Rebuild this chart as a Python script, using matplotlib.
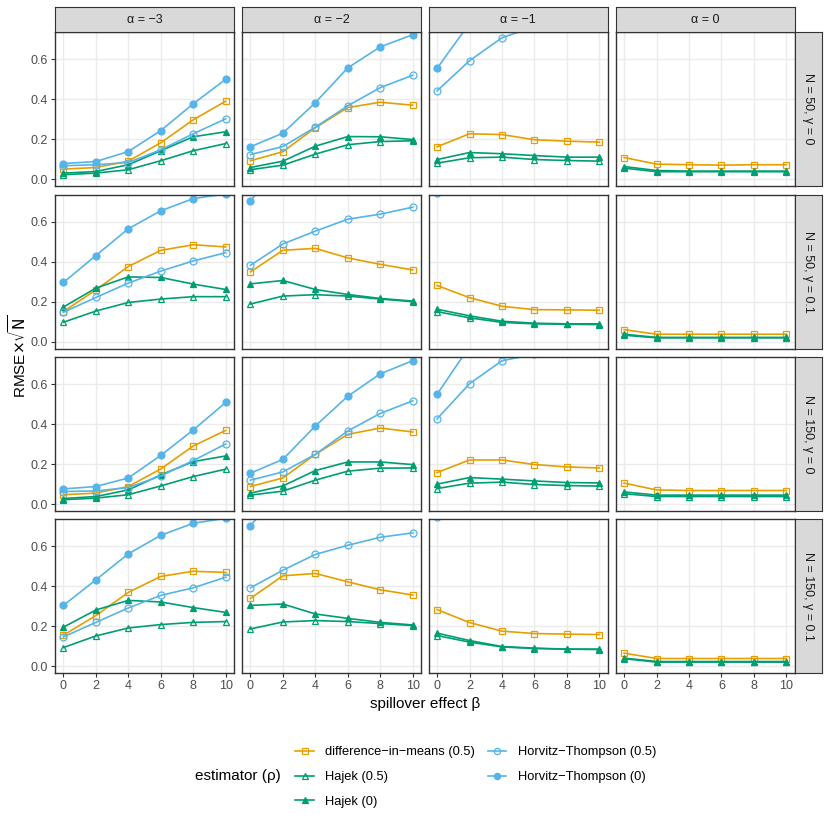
import numpy as np
import matplotlib.pyplot as plt
from matplotlib.lines import Line2D

plt.rcParams['font.family'] = ['Liberation Sans', 'DejaVu Sans']
plt.rcParams['mathtext.fontset'] = 'dejavusans'

beta = [0, 2, 4, 6, 8, 10]
alpha_labels = ['α = −3', 'α = −2', 'α = −1', 'α = 0']
row_labels = ['N = 50, γ = 0', 'N = 50, γ = 0.1', 'N = 150, γ = 0', 'N = 150, γ = 0.1']
estimators = ['difference−in−means (0.5)', 'Hajek (0.5)', 'Hajek (0)',
              'Horvitz−Thompson (0.5)', 'Horvitz−Thompson (0)']

# values indexed [row][alpha column][beta]
dim_05 = [
    [[0.05, 0.058, 0.09, 0.182, 0.297, 0.39],
     [0.092, 0.137, 0.257, 0.358, 0.385, 0.37],
     [0.162, 0.227, 0.223, 0.197, 0.19, 0.185],
     [0.108, 0.075, 0.072, 0.07, 0.072, 0.072]],
    [[0.151, 0.26, 0.377, 0.458, 0.486, 0.475],
     [0.35, 0.458, 0.468, 0.42, 0.388, 0.36],
     [0.282, 0.221, 0.178, 0.161, 0.16, 0.158],
     [0.061, 0.038, 0.038, 0.038, 0.038, 0.038]],
    [[0.047, 0.055, 0.088, 0.176, 0.291, 0.369],
     [0.088, 0.131, 0.249, 0.349, 0.381, 0.361],
     [0.158, 0.221, 0.221, 0.198, 0.186, 0.181],
     [0.105, 0.071, 0.068, 0.068, 0.068, 0.068]],
    [[0.155, 0.253, 0.369, 0.449, 0.475, 0.469],
     [0.339, 0.452, 0.464, 0.422, 0.382, 0.356],
     [0.283, 0.218, 0.175, 0.163, 0.16, 0.158],
     [0.065, 0.038, 0.038, 0.038, 0.038, 0.038]],
]
hajek_05 = [
    [[0.022, 0.03, 0.047, 0.092, 0.142, 0.178],
     [0.047, 0.07, 0.125, 0.172, 0.188, 0.192],
     [0.08, 0.107, 0.11, 0.098, 0.093, 0.09],
     [0.055, 0.037, 0.037, 0.037, 0.037, 0.037]],
    [[0.098, 0.154, 0.197, 0.214, 0.226, 0.226],
     [0.189, 0.229, 0.236, 0.229, 0.214, 0.201],
     [0.151, 0.12, 0.097, 0.09, 0.088, 0.086],
     [0.033, 0.02, 0.02, 0.02, 0.02, 0.02]],
    [[0.022, 0.03, 0.047, 0.091, 0.138, 0.175],
     [0.045, 0.065, 0.12, 0.165, 0.18, 0.181],
     [0.078, 0.105, 0.11, 0.098, 0.093, 0.09],
     [0.052, 0.038, 0.038, 0.038, 0.038, 0.038]],
    [[0.093, 0.151, 0.191, 0.208, 0.219, 0.223],
     [0.186, 0.221, 0.228, 0.223, 0.213, 0.203],
     [0.153, 0.12, 0.096, 0.088, 0.085, 0.083],
     [0.037, 0.02, 0.02, 0.02, 0.02, 0.02]],
]
hajek_0 = [
    [[0.03, 0.038, 0.072, 0.142, 0.212, 0.237],
     [0.058, 0.09, 0.165, 0.213, 0.212, 0.198],
     [0.098, 0.133, 0.127, 0.118, 0.11, 0.11],
     [0.063, 0.043, 0.04, 0.04, 0.04, 0.04]],
    [[0.174, 0.269, 0.325, 0.322, 0.289, 0.262],
     [0.29, 0.307, 0.262, 0.237, 0.217, 0.204],
     [0.163, 0.13, 0.103, 0.093, 0.09, 0.09],
     [0.038, 0.022, 0.022, 0.022, 0.022, 0.022]],
    [[0.028, 0.038, 0.071, 0.146, 0.213, 0.241],
     [0.055, 0.091, 0.168, 0.211, 0.211, 0.198],
     [0.1, 0.133, 0.125, 0.116, 0.108, 0.106],
     [0.061, 0.045, 0.045, 0.045, 0.045, 0.045]],
    [[0.195, 0.281, 0.329, 0.321, 0.293, 0.269],
     [0.304, 0.311, 0.261, 0.239, 0.219, 0.206],
     [0.165, 0.128, 0.098, 0.09, 0.085, 0.085],
     [0.04, 0.023, 0.023, 0.023, 0.023, 0.023]],
]
ht_05 = [
    [[0.067, 0.072, 0.083, 0.147, 0.227, 0.302],
     [0.123, 0.163, 0.26, 0.367, 0.458, 0.52],
     [0.442, 0.593, 0.708, 0.763, 0.80, 0.83],
     [1.6, 1.4, 1.3, 1.3, 1.3, 1.3]],
    [[0.148, 0.222, 0.294, 0.354, 0.405, 0.446],
     [0.383, 0.49, 0.554, 0.614, 0.639, 0.674],
     [0.745, 0.95, 1.05, 1.1, 1.1, 1.1],
     [1.8, 1.6, 1.5, 1.5, 1.5, 1.5]],
    [[0.063, 0.066, 0.083, 0.141, 0.218, 0.301],
     [0.12, 0.161, 0.249, 0.366, 0.454, 0.517],
     [0.427, 0.603, 0.718, 0.75, 0.78, 0.80],
     [1.6, 1.4, 1.3, 1.3, 1.3, 1.3]],
    [[0.146, 0.219, 0.291, 0.354, 0.392, 0.445],
     [0.392, 0.48, 0.559, 0.605, 0.645, 0.667],
     [0.745, 0.95, 1.05, 1.1, 1.1, 1.1],
     [1.8, 1.6, 1.5, 1.5, 1.5, 1.5]],
]
ht_0 = [
    [[0.078, 0.088, 0.138, 0.243, 0.377, 0.50],
     [0.162, 0.23, 0.383, 0.557, 0.662, 0.723],
     [0.555, 0.78, 0.95, 1.05, 1.1, 1.15],
     [2.0, 1.8, 1.7, 1.7, 1.7, 1.7]],
    [[0.297, 0.432, 0.566, 0.656, 0.717, 0.74],
     [0.707, 0.89, 1.0, 1.05, 1.1, 1.1],
     [0.95, 1.1, 1.2, 1.2, 1.2, 1.2],
     [2.2, 2.0, 1.9, 1.9, 1.9, 1.9]],
    [[0.076, 0.088, 0.131, 0.244, 0.371, 0.509],
     [0.155, 0.224, 0.391, 0.54, 0.652, 0.718],
     [0.55, 0.79, 0.95, 1.05, 1.1, 1.15],
     [2.0, 1.8, 1.7, 1.7, 1.7, 1.7]],
    [[0.304, 0.432, 0.562, 0.655, 0.715, 0.74],
     [0.703, 0.89, 1.0, 1.05, 1.1, 1.1],
     [0.95, 1.1, 1.2, 1.2, 1.2, 1.2],
     [2.2, 2.0, 1.9, 1.9, 1.9, 1.9]],
]

series = [dim_05, hajek_05, hajek_0, ht_05, ht_0]
colors = ['#E69F00', '#009E73', '#009E73', '#56B4E9', '#56B4E9']
markers = ['s', '^', '^', 'o', 'o']
filled = [False, False, True, False, True]

W = 830.0
fig = plt.figure(figsize=(8.3, 8.3), dpi=100)

col_left = [55.3, 242.3, 429.0, 616.0]
row_top = [32.3, 195.0, 357.3, 519.3]
pw, ph = 178.5, 153.8

def px(x0, y0, w, h):
    return [x0 / W, 1 - (y0 + h) / W, w / W, h / W]

for r in range(4):
    for c in range(4):
        ax = fig.add_axes(px(col_left[c], row_top[r], pw, ph))
        ax.set_xlim(-0.5, 10.5)
        ax.set_ylim(-0.035, 0.735)
        ax.set_xticks(beta)
        ax.set_yticks([0, 0.2, 0.4, 0.6])
        ax.grid(True, color='#EBEBEB', linewidth=1.0)
        ax.set_axisbelow(True)
        for sp in ax.spines.values():
            sp.set_color('#333333')
            sp.set_linewidth(1.0)
        ax.tick_params(length=3, width=0.8, color='#333333', labelcolor='#4D4D4D',
                       labelsize=9, pad=2)
        if c > 0:
            ax.tick_params(labelleft=False, left=False)
        if r < 3:
            ax.tick_params(labelbottom=False, bottom=False)
        if c == 0:
            ax.set_yticklabels(['0.0', '0.2', '0.4', '0.6'])
        for k in range(5):
            ax.plot(beta, series[k][r][c], color=colors[k], linewidth=1.2,
                    marker=markers[k], markersize=5,
                    markerfacecolor=colors[k] if filled[k] else 'none',
                    markeredgecolor=colors[k], markeredgewidth=0.9)

# top strips
for c in range(4):
    sax = fig.add_axes(px(col_left[c], 7.3, pw, 25.0))
    sax.set_facecolor('#D9D9D9')
    sax.set_xticks([])
    sax.set_yticks([])
    for sp in sax.spines.values():
        sp.set_color('#333333')
    sax.text(0.5, 0.5, alpha_labels[c], ha='center', va='center',
             fontsize=9, color='#1A1A1A', transform=sax.transAxes)

# right strips
for r in range(4):
    sax = fig.add_axes(px(794.5, row_top[r], 27.0, ph))
    sax.set_facecolor('#D9D9D9')
    sax.set_xticks([])
    sax.set_yticks([])
    for sp in sax.spines.values():
        sp.set_color('#333333')
    sax.text(0.5, 0.5, row_labels[r], ha='center', va='center', rotation=-90,
             fontsize=9, color='#1A1A1A', transform=sax.transAxes)

fig.text(424.7 / W, 1 - 704 / W, 'spillover effect β', ha='center', va='center',
         fontsize=11)
fig.text(18 / W, 1 - 356 / W, r'RMSE$\times\sqrt{\mathrm{N}}$', ha='center',
         va='center', rotation=90, fontsize=11)

handles = [Line2D([], [], color=colors[k], linewidth=1.2, marker=markers[k],
                  markersize=4.5,
                  markerfacecolor=colors[k] if filled[k] else 'none',
                  markeredgecolor=colors[k], markeredgewidth=0.9)
           for k in range(5)]
fig.legend(handles, estimators, loc='center left',
           bbox_to_anchor=(289 / W, 1 - 777 / W), ncol=2, frameon=False,
           fontsize=9.3, handlelength=1.4, handletextpad=0.9,
           labelspacing=1.0, columnspacing=1.0, borderpad=0)
fig.text(195 / W, 1 - 776 / W, 'estimator (ρ)', ha='left', va='center',
         fontsize=11)

plt.savefig('out.png', dpi=100)
